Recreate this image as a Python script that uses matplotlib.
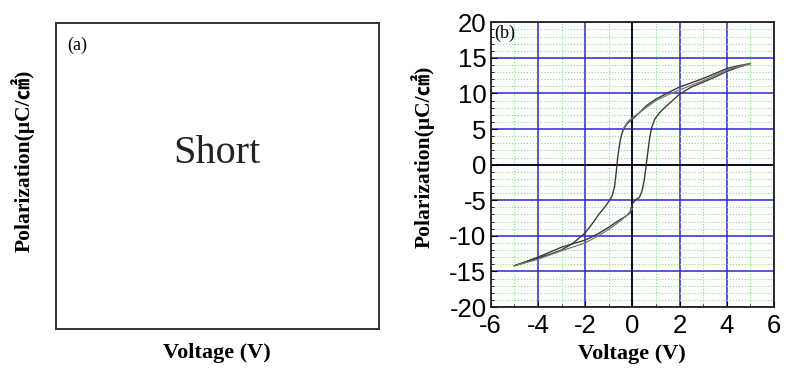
import numpy as np
import matplotlib.pyplot as plt
from matplotlib.ticker import MultipleLocator

plt.rcParams['axes.unicode_minus'] = False

# hysteresis loop
# descending branch (+5 V -> -5 V)
v_down = [5.0, 4.5, 4.0, 3.5, 3.0, 2.5, 2.0, 1.5, 1.0, 0.6, 0.3, 0.0, -0.15, -0.3, -0.42,
          -0.5, -0.56, -0.62, -0.66, -0.7, -0.76, -0.85, -0.96, -1.15, -1.4, -1.7, -2.0,
          -2.5, -3.0, -3.5, -4.0, -4.5, -5.0]
p_down = [14.2, 13.9, 13.5, 12.8, 12.1, 11.5, 10.9, 10.1, 9.2, 8.3, 7.3, 6.4, 6.0, 5.4, 4.6,
          3.6, 2.4, 1.0, -0.3, -1.6, -3.2, -4.3, -5.0, -5.9, -6.9, -8.3, -9.6,
          -11.0, -12.0, -12.6, -13.1, -13.7, -14.2]
# ascending branch (-5 V -> +5 V)
v_up = [-5.0, -4.5, -4.0, -3.5, -3.0, -2.5, -2.0, -1.5, -1.0, -0.6, -0.3, -0.1, 0.0, 0.15,
        0.3, 0.42, 0.5, 0.56, 0.62, 0.68, 0.74, 0.82, 0.95, 1.15, 1.4, 1.7, 2.0, 2.5,
        3.0, 3.5, 4.0, 4.5, 5.0]
p_up = [-14.2, -13.6, -13.0, -12.3, -11.6, -11.1, -10.6, -9.8, -8.8, -7.9, -7.3, -6.8, -5.5,
        -4.9, -4.6, -3.6, -2.2, -0.8, 0.8, 2.4, 3.9, 5.2, 6.4, 7.3, 8.1, 9.0, 9.9, 10.9,
        11.6, 12.3, 13.1, 13.7, 14.2]
# second cycle (slightly offset traces)
v_down2 = [5.0, 4.0, 3.0, 2.0, 1.5, 1.0, 0.5, 0.0, -0.2, -0.4]
p_down2 = [14.2, 13.3, 11.8, 10.5, 9.8, 9.0, 7.8, 6.6, 6.0, 5.0]
v_up2 = [-5.0, -4.0, -3.0, -2.0, -1.5, -1.0, -0.5, -0.2, 0.0]
p_up2 = [-14.2, -13.3, -12.1, -11.0, -10.1, -9.1, -7.9, -7.0, -6.2]

fig = plt.figure(figsize=(7.86, 3.69), dpi=100)
serif = ['Liberation Serif', 'Noto Sans CJK JP']
ylab = 'Polarization(\u03bcC/\u33a0)'

# panel (a)
ax1 = fig.add_axes([0.0712, 0.1084, 0.4105, 0.8293])
ax1.set_xticks([])
ax1.set_yticks([])
for s in ax1.spines.values():
    s.set_linewidth(1.4)
    s.set_color('#333333')
ax1.text(0.035, 0.955, '(a)', transform=ax1.transAxes, ha='left', va='top',
         fontsize=13, family='Liberation Serif')
ax1.text(0.5, 0.575, 'Short', transform=ax1.transAxes, ha='center', va='center',
         fontsize=29, family='Liberation Serif', color='#222222')
ax1.set_xlabel('Voltage (V)', fontsize=16, family='Liberation Serif',
               fontweight='bold', labelpad=10)
fig.text(0.029, 0.565, ylab, rotation=90, ha='center', va='center',
         fontsize=15.5, family=serif, fontweight='bold')

# panel (b)
ax2 = fig.add_axes([0.6243, 0.168, 0.3604, 0.7716])
ax2.set_xlim(-6, 6)
ax2.set_ylim(-20, 20)
ax2.xaxis.set_major_locator(MultipleLocator(2))
ax2.xaxis.set_minor_locator(MultipleLocator(1))
ax2.yaxis.set_major_locator(MultipleLocator(5))
ax2.yaxis.set_minor_locator(MultipleLocator(1))
ax2.grid(which='minor', color='#88dd88', linestyle=':', linewidth=0.8)
ax2.grid(which='major', color='#2a2ad0', linestyle='-', linewidth=1.1)
ax2.axhline(0, color='black', linewidth=1.2)
ax2.axvline(0, color='black', linewidth=1.2)
ax2.tick_params(which='both', direction='in', labelsize=18.5)
ax2.tick_params(axis='x', which='major', pad=5)
ax2.tick_params(axis='y', which='major', pad=3)
ax2.tick_params(which='major', length=4)
ax2.tick_params(which='minor', length=2.5)
for lab in ax2.get_xticklabels() + ax2.get_yticklabels():
    lab.set_family('Liberation Sans')
for s in ax2.spines.values():
    s.set_linewidth(1.3)
    s.set_color('#222222')

ax2.plot(v_down, p_down, color='#3a3a3a', linewidth=1.0)
ax2.plot(v_up, p_up, color='#3a3a3a', linewidth=1.0)
ax2.plot(v_down2, p_down2, color='#777777', linewidth=0.9)
ax2.plot(v_up2, p_up2, color='#777777', linewidth=0.9)

ax2.text(-5.85, 19.6, '(b)', ha='left', va='top', fontsize=13, family='Liberation Serif')
ax2.set_xlabel('Voltage (V)', fontsize=16, family='Liberation Serif',
               fontweight='bold', labelpad=4)
fig.text(0.538, 0.575, ylab, rotation=90, ha='center', va='center',
         fontsize=15.5, family=serif, fontweight='bold')

fig.savefig('out.png', dpi=100)
